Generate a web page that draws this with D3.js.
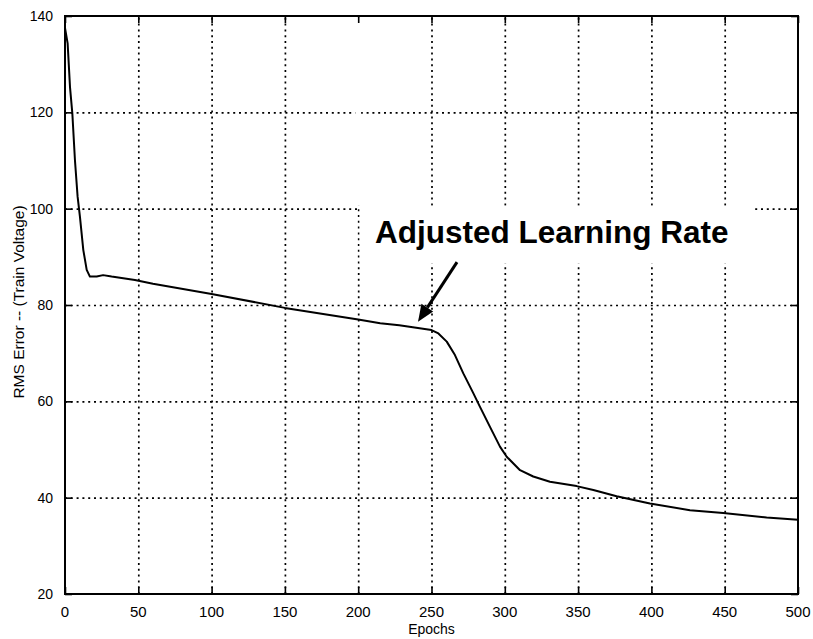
<!DOCTYPE html>
<html lang="en">
<head>
    <meta charset="UTF-8">
    <title>RMS Error vs Epochs</title>
    <script src="https://d3js.org/d3.v7.min.js"></script>
    <style>
        body { margin: 0; background: #fff; }
        svg { display: block; font-family: "Liberation Sans", Arial, sans-serif; }
        .grid line { stroke: #000; stroke-width: 1.7; stroke-dasharray: 2,3.8; }
        .grid path { display: none; }
        .ticks path { display: none; }
        .ticks line { stroke: #000; stroke-width: 1.6; }
    </style>
</head>
<body>
    <svg width="813" height="639"></svg>
    <script>
        // values
        const epochs   = [0, 1.8, 3.4, 5, 6.8, 8.6, 10.2, 12.5, 14.8, 17, 21.6, 26, 31.8, 47.7, 60, 100, 150, 200, 215, 228, 250, 254.7, 260.4, 266, 271.7, 278.5, 283, 289.9, 296.7, 301.3, 310.4, 319.4, 330.8, 349, 360.4, 376.3, 399, 426.3, 449, 478.6, 500];
        const rmsError = [137.5, 134.3, 125.3, 119.8, 110, 102.5, 98.3, 91.4, 87.3, 85.9, 85.9, 86.2, 85.9, 85.2, 84.4, 82.3, 79.4, 77.0, 76.2, 75.8, 74.8, 74.1, 72.4, 69.6, 65.8, 61.7, 58.9, 54.7, 50.6, 48.5, 45.7, 44.4, 43.3, 42.4, 41.6, 40.3, 38.8, 37.4, 36.8, 35.9, 35.4];
        const xTicks = [0, 50, 100, 150, 200, 250, 300, 350, 400, 450, 500];
        const yTicks = [20, 40, 60, 80, 100, 120, 140];
        const annotationText = "Adjusted Learning Rate";

        var margin = {top: 16, right: 15, bottom: 45, left: 65};
        var width = 798 - margin.left;
        var height = 594 - margin.top;

        var x = d3.scaleLinear().domain([0, 500]).range([0, width]);
        var y = d3.scaleLinear().domain([20, 140]).range([height, 0]);

        var svg = d3.select("svg")
          .append("g")
            .attr("transform", "translate(" + margin.left + "," + margin.top + ")");

        // dotted grid
        svg.append("g")
            .attr("class", "grid")
            .attr("transform", "translate(0," + height + ")")
            .call(d3.axisBottom(x).tickValues(xTicks.slice(1, -1)).tickSize(-height).tickFormat(""));
        svg.append("g")
            .attr("class", "grid")
            .call(d3.axisLeft(y).tickValues(yTicks.slice(1, -1)).tickSize(-width).tickFormat(""));

        // blanked patches (grid is broken there in the original)
        svg.append("rect")
            .attr("x", x(201))
            .attr("y", y(100.6))
            .attr("width", x(470) - x(201))
            .attr("height", y(88.6) - y(100.6))
            .attr("fill", "#fff");
        svg.append("rect")
            .attr("x", x(198))
            .attr("y", 2)
            .attr("width", x(202) - x(198))
            .attr("height", y(100.6) - 2)
            .attr("fill", "#fff");

        // inward ticks on all four sides
        svg.append("g").attr("class", "ticks")
            .attr("transform", "translate(0," + height + ")")
            .call(d3.axisBottom(x).tickValues(xTicks).tickSize(-7).tickFormat(""));
        svg.append("g").attr("class", "ticks")
            .call(d3.axisTop(x).tickValues(xTicks).tickSize(-7).tickFormat(""));
        svg.append("g").attr("class", "ticks")
            .call(d3.axisLeft(y).tickValues(yTicks).tickSize(-7).tickFormat(""));
        svg.append("g").attr("class", "ticks")
            .attr("transform", "translate(" + width + ",0)")
            .call(d3.axisRight(y).tickValues(yTicks).tickSize(-7).tickFormat(""));

        // frame
        svg.append("rect")
            .attr("width", width)
            .attr("height", height)
            .attr("fill", "none")
            .attr("stroke", "#000")
            .attr("stroke-width", 2);

        // tick labels
        svg.selectAll(".xlab")
            .data(xTicks)
          .enter().append("text")
            .attr("class", "xlab")
            .attr("x", d => x(d))
            .attr("y", height + 23)
            .attr("text-anchor", "middle")
            .attr("font-size", 15)
            .text(d => d);

        svg.selectAll(".ylab")
            .data(yTicks)
          .enter().append("text")
            .attr("class", "ylab")
            .attr("x", -12)
            .attr("y", d => y(d))
            .attr("dy", "0.36em")
            .attr("text-anchor", "end")
            .attr("font-size", 14)
            .text(d => d);

        // axis titles
        svg.append("text")
            .attr("x", x(250))
            .attr("y", height + 40)
            .attr("text-anchor", "middle")
            .attr("font-size", 14)
            .text("Epochs");

        svg.append("text")
            .attr("text-anchor", "middle")
            .attr("transform", "translate(-41," + (y(80) - 3) + ")rotate(-90)")
            .attr("font-size", 15.5)
            .text("RMS Error -- (Train Voltage)");

        // the curve
        var line = d3.line()
            .x((d, i) => x(epochs[i]))
            .y(d => y(d));

        svg.append("path")
            .datum(rmsError)
            .attr("fill", "none")
            .attr("stroke", "#000")
            .attr("stroke-width", 2)
            .attr("stroke-linejoin", "round")
            .attr("d", line);

        // annotation
        svg.append("text")
            .attr("x", x(211.5))
            .attr("y", y(92.9))
            .attr("font-size", 31.5)
            .attr("font-weight", "bold")
            .text(annotationText);

        var tail = [x(267.4), y(88.9)];
        var tip = [x(240.8), y(76.5)];
        var ang = Math.atan2(tip[1] - tail[1], tip[0] - tail[0]);
        var headLen = 17, headHalf = 7;
        var base = [tip[0] - headLen * Math.cos(ang), tip[1] - headLen * Math.sin(ang)];

        svg.append("line")
            .attr("x1", tail[0]).attr("y1", tail[1])
            .attr("x2", base[0]).attr("y2", base[1])
            .attr("stroke", "#000")
            .attr("stroke-width", 3);

        svg.append("path")
            .attr("d", "M" + tip[0] + "," + tip[1] +
                "L" + (base[0] + headHalf * Math.sin(ang)) + "," + (base[1] - headHalf * Math.cos(ang)) +
                "L" + (base[0] - headHalf * Math.sin(ang)) + "," + (base[1] + headHalf * Math.cos(ang)) + "Z")
            .attr("fill", "#000");
    </script>
</body>
</html>
